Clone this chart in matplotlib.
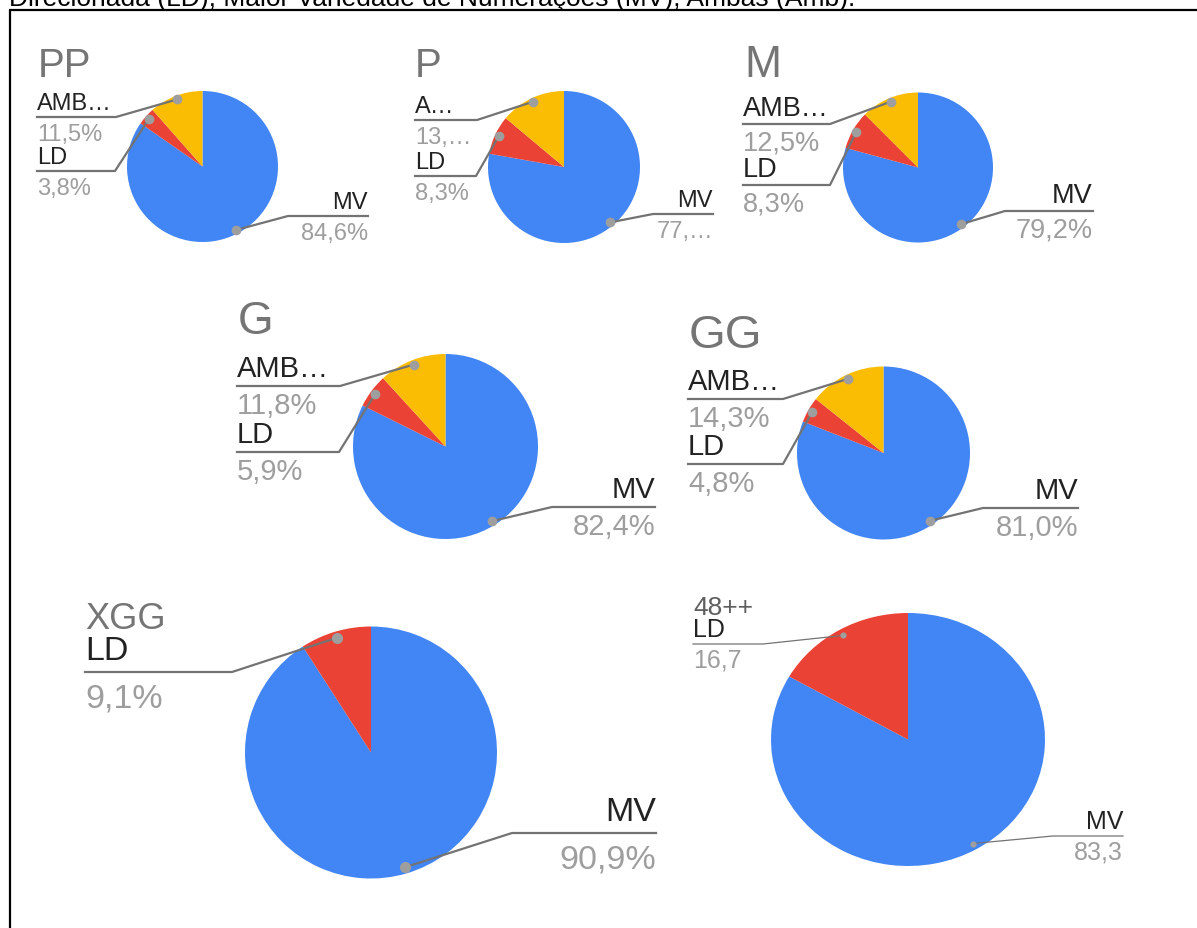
import numpy as np
import matplotlib
matplotlib.use('Agg')
import matplotlib.pyplot as plt

plt.rcParams['font.family'] = ['Liberation Sans', 'DejaVu Sans']

W, H = 1197, 929

# data
sizes = ['PP', 'P', 'M', 'G', 'GG', 'XGG', '48++']
mv_pct = [84.6, 77.8, 79.2, 82.4, 81.0, 90.9, 83.3]
ld_pct = [3.8, 8.3, 8.3, 5.9, 4.8, 9.1, 16.7]
amb_pct = [11.5, 13.9, 12.5, 11.8, 14.3, 0.0, 0.0]
series_names = ['MV', 'LD', 'AMB…']
colors = ['#4285f4', '#ea4335', '#fbbc04']
header = 'Direcionada (LD), Maior Variedade de Numerações (MV), Ambas (Amb).'

# layout of each small chart, in pixels (y grows downward)
# gap: spacing unit between leader line and label text, fs: label font size
layouts = {
    'PP':   dict(c=(202.5, 167.5), r=(75.5, 75.5), title=(38, 77, 29), fs=17, gap=15, lx=37,
                 amb=(118, 116), ld=(172, 115), mv=(368, 217, 288)),
    'P':    dict(c=(564, 168), r=(76, 76), title=(415, 77, 29), fs=17, gap=15, lx=415,
                 amb=(121, 477), ld=(177, 476), mv=(713, 215, 653), trunc=True),
    'M':    dict(c=(918, 168.5), r=(75, 75), title=(744, 77, 32), fs=19.5, gap=17, lx=743,
                 amb=(125, 830), ld=(186, 830), mv=(1093, 212, 1005)),
    'G':    dict(c=(445.5, 447.5), r=(92.5, 92.5), title=(238, 334, 33), fs=21, gap=18, lx=237,
                 amb=(387, 340), ld=(453, 339), mv=(655, 508, 552)),
    'GG':   dict(c=(883.5, 454), r=(86.5, 86.5), title=(689, 348, 34), fs=21, gap=18, lx=688,
                 amb=(400, 783), ld=(465, 783), mv=(1078, 509, 983)),
    'XGG':  dict(c=(371, 753.5), r=(126, 126), title=(85, 629, 26), fs=24.5, gap=23, lx=85,
                 amb=None, ld=(673, 232), mv=(656, 834, 512), big=True),
    '48++': dict(c=(908, 740.5), r=(137, 126.5), title=(693, 615, 19), fs=18, gap=15, lx=693,
                 amb=None, ld=(645, 763), mv=(1123, 837, 1053), nopct=True, thin=True),
}

TITLE_C = '#757575'
NAME_C = '#222222'
PCT_C = '#9e9e9e'
LINE_C = '#737373'
DOT_C = '#9e9e9e'


def fmt(v, lay, short=False):
    s = ('%.1f' % v).replace('.', ',')
    if short:
        return s[:3] + '…'
    if lay.get('nopct'):
        return s
    return s + '%'


fig = plt.figure(figsize=(W / 100, H / 100), dpi=100)
fig.patch.set_facecolor('white')

ov = fig.add_axes([0, 0, 1, 1], zorder=10)
ov.set_xlim(0, W)
ov.set_ylim(H, 0)
ov.axis('off')
ov.patch.set_alpha(0)

# clipped header line and border box
ov.text(9, 6, header, fontsize=19, color='black', ha='left', va='baseline')
ov.plot([9, W], [10.8, 10.8], color='black', lw=1.6, solid_capstyle='butt')
ov.plot([9.6, 9.6], [10, H], color='black', lw=1.6, solid_capstyle='butt')

for i, size in enumerate(sizes):
    lay = layouts[size]
    cx, cy = lay['c']
    rx, ry = lay['r']
    vals = [mv_pct[i], ld_pct[i], amb_pct[i]]
    keep = [k for k in range(3) if vals[k] > 0]

    pax = fig.add_axes([(cx - rx) / W, 1 - (cy + ry) / H, 2 * rx / W, 2 * ry / H])
    pax.pie([vals[k] for k in keep], colors=[colors[k] for k in keep],
            startangle=90, counterclock=False, radius=1,
            wedgeprops=dict(linewidth=0))
    pax.set_aspect('auto')
    pax.set_xlim(-1, 1)
    pax.set_ylim(-1, 1)

    # dot positions at the middle of each slice
    total = sum(vals)
    cum = np.cumsum([0] + vals)
    dots = {}
    for k in keep:
        f = (cum[k] + vals[k] / 2) / total
        a = 2 * np.pi * f
        dots[k] = (cx + 0.95 * rx * np.sin(a), cy - 0.95 * ry * np.cos(a))

    fs = lay['fs']
    g = lay['gap']
    lw = 0.9 if lay.get('thin') else 1.6
    ms = 4.5 if lay.get('thin') else (8 if lay.get('big') else 7)

    tx, ty, tfs = lay['title']
    tcol = '#5f5f5f' if size == '48++' else TITLE_C
    ov.text(tx, ty, size, fontsize=tfs, color=tcol, ha='left', va='baseline')

    lx = lay['lx']
    trunc = lay.get('trunc', False)
    name_amb = 'A…' if trunc else series_names[2]
    for k, key, nm, short in [(2, 'amb', name_amb, trunc), (1, 'ld', series_names[1], False)]:
        if lay[key] is None or k not in keep:
            continue
        ly, ex = lay[key]
        dx, dy = dots[k]
        ov.plot([lx, ex, dx], [ly, ly, dy], color=LINE_C, lw=lw)
        ov.plot(dx, dy, 'o', color=DOT_C, ms=ms, mec='none')
        ov.text(lx, ly - 0.55 * g, nm, fontsize=fs, color=NAME_C, ha='left', va='baseline')
        ov.text(lx, ly + 1.5 * g, fmt(vals[k], lay, short), fontsize=fs, color=PCT_C,
                ha='left', va='baseline')

    rx_, ly, ex = lay['mv']
    dx, dy = dots[0]
    ov.plot([rx_, ex, dx], [ly, ly, dy], color=LINE_C, lw=lw)
    ov.plot(dx, dy, 'o', color=DOT_C, ms=ms, mec='none')
    ov.text(rx_, ly - 0.55 * g, series_names[0], fontsize=fs, color=NAME_C,
            ha='right', va='baseline')
    ov.text(rx_, ly + 1.5 * g, fmt(vals[0], lay, trunc), fontsize=fs, color=PCT_C,
            ha='right', va='baseline')

fig.savefig('out.png', dpi=100, facecolor='white')
